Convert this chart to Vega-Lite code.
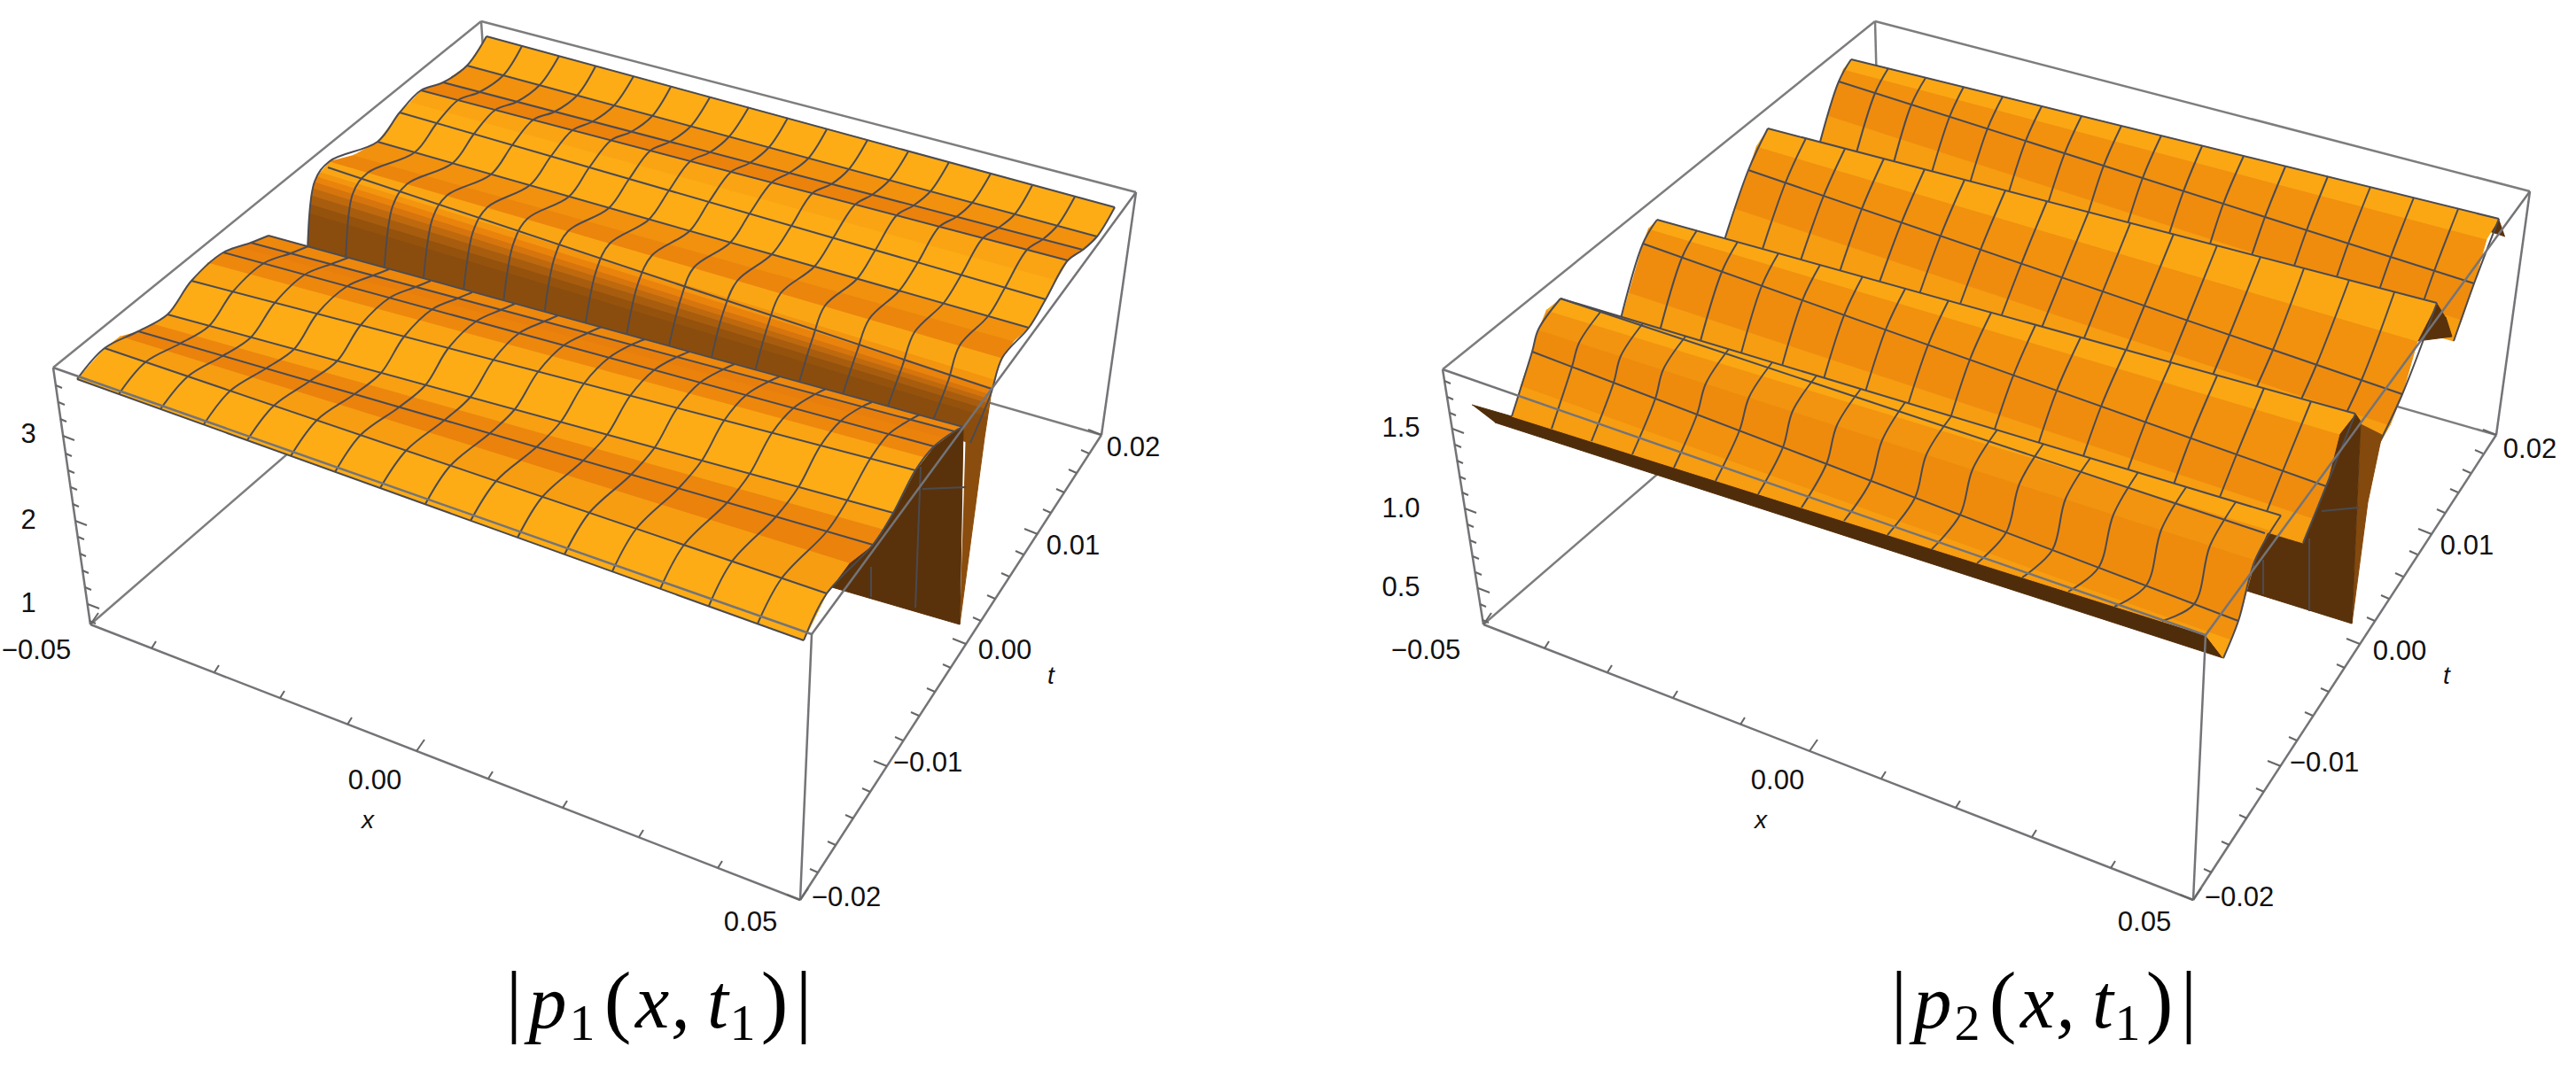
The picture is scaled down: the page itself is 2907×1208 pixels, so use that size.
{
"$schema":"https://vega.github.io/schema/vega-lite/v6.json",
"width":2907,"height":1208,"padding":0,
"autosize":{"type":"fit","contains":"padding"},
"background":"white",
"config":{"view":{"stroke":null}},
"datasets":{
"boxUnder":[
{"x":102,"y":705,"x2":572,"y2":298},{"x":572,"y":298,"x2":1243,"y2":491},{"x":60,"y":415,"x2":543,"y2":24},{"x":543,"y":24,"x2":1282,"y2":217},{"x":543,"y":24,"x2":548,"y2":100},
{"x":1674,"y":705,"x2":2145,"y2":298},{"x":2145,"y":298,"x2":2817,"y2":491},{"x":1628,"y":417,"x2":2116,"y2":24},{"x":2116,"y":24,"x2":2855,"y2":216},{"x":2116,"y":24,"x2":2118,"y2":100}
],
"boxOver":[
{"x":60,"y":415,"x2":916,"y2":716},{"x":916,"y":716,"x2":1282,"y2":217},{"x":916,"y":716,"x2":903,"y2":1016},{"x":60,"y":415,"x2":102,"y2":705},{"x":1282,"y":217,"x2":1243,"y2":491},{"x":102,"y":705,"x2":903,"y2":1016},{"x":903,"y":1016,"x2":1243,"y2":491},
{"x":1628,"y":417,"x2":2489,"y2":717},{"x":2489,"y":717,"x2":2855,"y2":216},{"x":2489,"y":717,"x2":2475,"y2":1016},{"x":1628,"y":417,"x2":1674,"y2":705},{"x":2855,"y":216,"x2":2817,"y2":491},{"x":1674,"y":705,"x2":2475,"y2":1016},{"x":2475,"y":1016,"x2":2817,"y2":491}
],
"ticks":[
{"x":102,"y":705,"x2":111,"y2":692},{"x":171,"y":732,"x2":176,"y2":724},{"x":242,"y":759,"x2":247,"y2":751},{"x":316,"y":788,"x2":321,"y2":780},{"x":392,"y":818,"x2":397,"y2":810},{"x":470,"y":848,"x2":479,"y2":835},{"x":551,"y":879,"x2":556,"y2":871},{"x":635,"y":912,"x2":640,"y2":904},{"x":721,"y":945,"x2":726,"y2":937},{"x":810,"y":980,"x2":815,"y2":972},{"x":903,"y":1016,"x2":912,"y2":1003},
{"x":903,"y":1016,"x2":888,"y2":1010},{"x":923,"y":985,"x2":914,"y2":981},{"x":943,"y":954,"x2":934,"y2":950},{"x":963,"y":924,"x2":954,"y2":920},{"x":982,"y":894,"x2":973,"y2":890},{"x":1001,"y":865,"x2":986,"y2":859},{"x":1019,"y":836,"x2":1010,"y2":832},{"x":1037,"y":808,"x2":1028,"y2":804},{"x":1055,"y":781,"x2":1046,"y2":777},{"x":1073,"y":754,"x2":1064,"y2":750},{"x":1090,"y":727,"x2":1075,"y2":721},{"x":1107,"y":701,"x2":1098,"y2":697},{"x":1123,"y":676,"x2":1114,"y2":672},{"x":1139,"y":651,"x2":1130,"y2":647},{"x":1155,"y":626,"x2":1146,"y2":622},{"x":1171,"y":603,"x2":1156,"y2":597},{"x":1186,"y":579,"x2":1177,"y2":575},{"x":1201,"y":556,"x2":1192,"y2":552},{"x":1215,"y":534,"x2":1206,"y2":530},{"x":1229,"y":512,"x2":1220,"y2":508},{"x":1243,"y":491,"x2":1228,"y2":485},
{"x":101,"y":701,"x2":108,"y2":704},{"x":99,"y":682,"x2":112,"y2":687},{"x":96,"y":663,"x2":103,"y2":666},{"x":93,"y":644,"x2":100,"y2":647},{"x":90,"y":625,"x2":97,"y2":628},{"x":88,"y":606,"x2":95,"y2":609},{"x":85,"y":588,"x2":98,"y2":593},{"x":82,"y":569,"x2":89,"y2":572},{"x":80,"y":550,"x2":87,"y2":553},{"x":77,"y":531,"x2":84,"y2":534},{"x":74,"y":512,"x2":81,"y2":515},{"x":71,"y":492,"x2":84,"y2":497},{"x":68,"y":473,"x2":75,"y2":476},{"x":66,"y":454,"x2":73,"y2":457},{"x":63,"y":435,"x2":70,"y2":438},
{"x":1674,"y":705,"x2":1683,"y2":692},{"x":1743,"y":732,"x2":1748,"y2":724},{"x":1814,"y":759,"x2":1819,"y2":751},{"x":1888,"y":788,"x2":1893,"y2":780},{"x":1964,"y":818,"x2":1969,"y2":810},{"x":2042,"y":848,"x2":2051,"y2":835},{"x":2123,"y":879,"x2":2128,"y2":871},{"x":2207,"y":912,"x2":2212,"y2":904},{"x":2293,"y":945,"x2":2298,"y2":937},{"x":2382,"y":980,"x2":2387,"y2":972},{"x":2475,"y":1016,"x2":2484,"y2":1003},
{"x":2475,"y":1016,"x2":2460,"y2":1010},{"x":2496,"y":985,"x2":2487,"y2":981},{"x":2516,"y":954,"x2":2507,"y2":950},{"x":2536,"y":924,"x2":2527,"y2":920},{"x":2555,"y":894,"x2":2546,"y2":890},{"x":2574,"y":865,"x2":2559,"y2":859},{"x":2592,"y":836,"x2":2583,"y2":832},{"x":2610,"y":808,"x2":2601,"y2":804},{"x":2628,"y":781,"x2":2619,"y2":777},{"x":2646,"y":754,"x2":2637,"y2":750},{"x":2663,"y":727,"x2":2648,"y2":721},{"x":2680,"y":701,"x2":2671,"y2":697},{"x":2696,"y":676,"x2":2687,"y2":672},{"x":2712,"y":651,"x2":2703,"y2":647},{"x":2728,"y":626,"x2":2719,"y2":622},{"x":2744,"y":603,"x2":2729,"y2":597},{"x":2759,"y":579,"x2":2750,"y2":575},{"x":2774,"y":556,"x2":2765,"y2":552},{"x":2788,"y":534,"x2":2779,"y2":530},{"x":2802,"y":512,"x2":2793,"y2":508},{"x":2817,"y":491,"x2":2802,"y2":485},
{"x":1673,"y":700,"x2":1680,"y2":703},{"x":1670,"y":682,"x2":1677,"y2":685},{"x":1668,"y":664,"x2":1681,"y2":669},{"x":1665,"y":646,"x2":1672,"y2":649},{"x":1662,"y":628,"x2":1669,"y2":631},{"x":1659,"y":610,"x2":1666,"y2":613},{"x":1656,"y":592,"x2":1663,"y2":595},{"x":1653,"y":574,"x2":1666,"y2":579},{"x":1650,"y":556,"x2":1657,"y2":559},{"x":1647,"y":538,"x2":1654,"y2":541},{"x":1644,"y":520,"x2":1651,"y2":523},{"x":1642,"y":502,"x2":1649,"y2":505},{"x":1639,"y":484,"x2":1652,"y2":489},{"x":1636,"y":466,"x2":1643,"y2":469},{"x":1633,"y":448,"x2":1640,"y2":451},{"x":1630,"y":430,"x2":1637,"y2":433}
],
"tickLabels":[
{"x":32,"y":491,"label":"3"},{"x":32,"y":588,"label":"2"},{"x":32,"y":682,"label":"1"},{"x":41,"y":735,"label":"−0.05"},{"x":423,"y":882,"label":"0.00"},{"x":847,"y":1042,"label":"0.05"},{"x":955,"y":1014,"label":"−0.02"},{"x":1047,"y":862,"label":"−0.01"},{"x":1134,"y":735,"label":"0.00"},{"x":1211,"y":617,"label":"0.01"},{"x":1279,"y":506,"label":"0.02"},
{"x":1581,"y":484,"label":"1.5"},{"x":1581,"y":575,"label":"1.0"},{"x":1581,"y":664,"label":"0.5"},{"x":1609,"y":735,"label":"−0.05"},{"x":2006,"y":882,"label":"0.00"},{"x":2420,"y":1042,"label":"0.05"},{"x":2527,"y":1014,"label":"−0.02"},{"x":2623,"y":862,"label":"−0.01"},{"x":2708,"y":736,"label":"0.00"},{"x":2784,"y":617,"label":"0.01"},{"x":2855,"y":508,"label":"0.02"}
],
"axisTitles":[{"x":415,"y":927,"label":"x"},{"x":1186,"y":764,"label":"t"},{"x":1987,"y":927,"label":"x"},{"x":2761,"y":764,"label":"t"}],
"titleUpright":[{"x":580,"y":1160,"label":"|"},{"x":697,"y":1160,"label":"("},{"x":874,"y":1160,"label":")"},{"x":907,"y":1160,"label":"|"},{"x":2143,"y":1160,"label":"|"},{"x":2260,"y":1160,"label":"("},{"x":2437,"y":1160,"label":")"},{"x":2470,"y":1160,"label":"|"}],
"titleItalic":[{"x":618,"y":1160,"label":"p"},{"x":736,"y":1160,"label":"x"},{"x":768,"y":1160,"label":","},{"x":810,"y":1160,"label":"t"},{"x":2181,"y":1160,"label":"p"},{"x":2299,"y":1160,"label":"x"},{"x":2331,"y":1160,"label":","},{"x":2373,"y":1160,"label":"t"}],
"titleSub":[{"x":657,"y":1174,"label":"1"},{"x":838,"y":1174,"label":"1"},{"x":2220,"y":1174,"label":"2"},{"x":2401,"y":1174,"label":"1"}],
"lbS":[
{"id":1,"shade":0.33,"x":1090,"y":483},{"id":1,"shade":0.33,"x":1119,"y":441},{"id":1,"shade":0.33,"x":1111,"y":494},{"id":1,"shade":0.33,"x":1083,"y":705},
{"id":2,"shade":0.33,"x":347,"y":290},{"id":2,"shade":0.33,"x":1095,"y":500},{"id":2,"shade":0.33,"x":1114,"y":470},{"id":2,"shade":0.33,"x":349,"y":240},
{"id":3,"shade":0.37,"x":349,"y":240},{"id":3,"shade":0.37,"x":1114,"y":470},{"id":3,"shade":0.37,"x":1115,"y":462},{"id":3,"shade":0.37,"x":350,"y":230},
{"id":31,"shade":0.45,"x":350,"y":230},{"id":31,"shade":0.45,"x":1115,"y":462},{"id":31,"shade":0.45,"x":1116,"y":455},{"id":31,"shade":0.45,"x":351,"y":220},
{"id":4,"shade":0.54,"x":351,"y":220},{"id":4,"shade":0.54,"x":1116,"y":455},{"id":4,"shade":0.54,"x":1117,"y":450},{"id":4,"shade":0.54,"x":353,"y":212},
{"id":41,"shade":0.63,"x":353,"y":212},{"id":41,"shade":0.63,"x":1117,"y":450},{"id":41,"shade":0.63,"x":1118,"y":445},{"id":41,"shade":0.63,"x":355,"y":205},
{"id":5,"shade":0.73,"x":355,"y":205},{"id":5,"shade":0.73,"x":1118,"y":445},{"id":5,"shade":0.73,"x":1120,"y":437},{"id":5,"shade":0.73,"x":358,"y":199},
{"id":51,"shade":0.85,"x":358,"y":199},{"id":51,"shade":0.85,"x":1120,"y":437},{"id":51,"shade":0.85,"x":1122,"y":428},{"id":51,"shade":0.85,"x":362,"y":194},
{"id":6,"shade":0.96,"x":362,"y":194},{"id":6,"shade":0.96,"x":1122,"y":428},{"id":6,"shade":0.96,"x":1131,"y":404},{"id":6,"shade":0.96,"x":372,"y":182},
{"id":7,"shade":0.74,"x":372,"y":182},{"id":7,"shade":0.74,"x":1131,"y":404},{"id":7,"shade":0.74,"x":1144,"y":385},{"id":7,"shade":0.74,"x":399,"y":175},
{"id":8,"shade":0.82,"x":399,"y":175},{"id":8,"shade":0.82,"x":1144,"y":385},{"id":8,"shade":0.82,"x":1161,"y":370},{"id":8,"shade":0.82,"x":426,"y":160},
{"id":9,"shade":1,"x":426,"y":160},{"id":9,"shade":1,"x":1161,"y":370},{"id":9,"shade":1,"x":1180,"y":338},{"id":9,"shade":1,"x":451,"y":127},
{"id":10,"shade":1,"x":451,"y":127},{"id":10,"shade":1,"x":1180,"y":338},{"id":10,"shade":1,"x":1192,"y":316},{"id":10,"shade":1,"x":463,"y":115},
{"id":11,"shade":0.95,"x":463,"y":115},{"id":11,"shade":0.95,"x":1192,"y":316},{"id":11,"shade":0.95,"x":1205,"y":294},{"id":11,"shade":0.95,"x":475,"y":102},
{"id":12,"shade":0.72,"x":475,"y":102},{"id":12,"shade":0.72,"x":1205,"y":294},{"id":12,"shade":0.72,"x":1222,"y":282},{"id":12,"shade":0.72,"x":500,"y":93},
{"id":13,"shade":0.82,"x":500,"y":93},{"id":13,"shade":0.82,"x":1222,"y":282},{"id":13,"shade":0.82,"x":1238,"y":267},{"id":13,"shade":0.82,"x":527,"y":74},
{"id":14,"shade":1,"x":527,"y":74},{"id":14,"shade":1,"x":1238,"y":267},{"id":14,"shade":1,"x":1258,"y":234},{"id":14,"shade":1,"x":549,"y":41}
],
"lbG":[
{"id":0,"x":347,"y":290},{"id":0,"x":355,"y":205},{"id":0,"x":372,"y":182},{"id":0,"x":426,"y":160},{"id":0,"x":451,"y":127},{"id":0,"x":475,"y":102},{"id":0,"x":500,"y":93},{"id":0,"x":527,"y":74},{"id":0,"x":549,"y":41},
{"id":1,"x":390,"y":302},{"id":1,"x":398,"y":219},{"id":1,"x":415,"y":195},{"id":1,"x":468,"y":172},{"id":1,"x":493,"y":139},{"id":1,"x":517,"y":113},{"id":1,"x":541,"y":104},{"id":1,"x":568,"y":85},{"id":1,"x":589,"y":52},
{"id":2,"x":433,"y":314},{"id":2,"x":443,"y":233},{"id":2,"x":459,"y":208},{"id":2,"x":511,"y":184},{"id":2,"x":535,"y":151},{"id":2,"x":559,"y":124},{"id":2,"x":583,"y":115},{"id":2,"x":609,"y":96},{"id":2,"x":631,"y":63},
{"id":3,"x":477,"y":327},{"id":3,"x":488,"y":247},{"id":3,"x":504,"y":221},{"id":3,"x":554,"y":197},{"id":3,"x":578,"y":164},{"id":3,"x":602,"y":135},{"id":3,"x":626,"y":126},{"id":3,"x":651,"y":108},{"id":3,"x":672,"y":75},
{"id":4,"x":522,"y":339},{"id":4,"x":534,"y":261},{"id":4,"x":550,"y":234},{"id":4,"x":598,"y":209},{"id":4,"x":622,"y":176},{"id":4,"x":646,"y":147},{"id":4,"x":669,"y":137},{"id":4,"x":693,"y":119},{"id":4,"x":715,"y":86},
{"id":5,"x":567,"y":352},{"id":5,"x":579,"y":276},{"id":5,"x":595,"y":247},{"id":5,"x":642,"y":222},{"id":5,"x":665,"y":189},{"id":5,"x":690,"y":158},{"id":5,"x":712,"y":149},{"id":5,"x":736,"y":131},{"id":5,"x":757,"y":98},
{"id":6,"x":613,"y":365},{"id":6,"x":626,"y":290},{"id":6,"x":641,"y":261},{"id":6,"x":687,"y":235},{"id":6,"x":710,"y":202},{"id":6,"x":734,"y":170},{"id":6,"x":756,"y":160},{"id":6,"x":779,"y":143},{"id":6,"x":801,"y":110},
{"id":7,"x":659,"y":378},{"id":7,"x":673,"y":305},{"id":7,"x":688,"y":275},{"id":7,"x":732,"y":248},{"id":7,"x":755,"y":215},{"id":7,"x":779,"y":182},{"id":7,"x":801,"y":172},{"id":7,"x":823,"y":154},{"id":7,"x":845,"y":121},
{"id":8,"x":705,"y":391},{"id":8,"x":720,"y":320},{"id":8,"x":736,"y":288},{"id":8,"x":778,"y":261},{"id":8,"x":800,"y":228},{"id":8,"x":825,"y":194},{"id":8,"x":846,"y":184},{"id":8,"x":868,"y":166},{"id":8,"x":889,"y":133},
{"id":9,"x":752,"y":404},{"id":9,"x":769,"y":335},{"id":9,"x":783,"y":302},{"id":9,"x":824,"y":274},{"id":9,"x":846,"y":241},{"id":9,"x":871,"y":206},{"id":9,"x":891,"y":195},{"id":9,"x":912,"y":179},{"id":9,"x":933,"y":146},
{"id":10,"x":800,"y":417},{"id":10,"x":817,"y":350},{"id":10,"x":832,"y":317},{"id":10,"x":871,"y":287},{"id":10,"x":893,"y":255},{"id":10,"x":917,"y":218},{"id":10,"x":938,"y":208},{"id":10,"x":958,"y":191},{"id":10,"x":979,"y":158},
{"id":11,"x":849,"y":431},{"id":11,"x":867,"y":366},{"id":11,"x":881,"y":331},{"id":11,"x":919,"y":301},{"id":11,"x":940,"y":269},{"id":11,"x":965,"y":231},{"id":11,"x":984,"y":220},{"id":11,"x":1004,"y":203},{"id":11,"x":1025,"y":171},
{"id":12,"x":898,"y":445},{"id":12,"x":917,"y":382},{"id":12,"x":931,"y":345},{"id":12,"x":967,"y":315},{"id":12,"x":988,"y":282},{"id":12,"x":1012,"y":243},{"id":12,"x":1031,"y":232},{"id":12,"x":1050,"y":216},{"id":12,"x":1071,"y":183},
{"id":13,"x":947,"y":458},{"id":13,"x":967,"y":397},{"id":13,"x":981,"y":360},{"id":13,"x":1015,"y":328},{"id":13,"x":1036,"y":296},{"id":13,"x":1060,"y":256},{"id":13,"x":1079,"y":245},{"id":13,"x":1097,"y":229},{"id":13,"x":1118,"y":196},
{"id":14,"x":997,"y":472},{"id":14,"x":1018,"y":414},{"id":14,"x":1032,"y":375},{"id":14,"x":1065,"y":342},{"id":14,"x":1085,"y":310},{"id":14,"x":1109,"y":269},{"id":14,"x":1127,"y":257},{"id":14,"x":1145,"y":242},{"id":14,"x":1165,"y":209},
{"id":15,"x":1048,"y":487},{"id":15,"x":1070,"y":430},{"id":15,"x":1083,"y":390},{"id":15,"x":1115,"y":357},{"id":15,"x":1134,"y":325},{"id":15,"x":1159,"y":282},{"id":15,"x":1177,"y":270},{"id":15,"x":1193,"y":255},{"id":15,"x":1213,"y":222},
{"id":16,"x":1095,"y":500},{"id":16,"x":1118,"y":445},{"id":16,"x":1131,"y":404},{"id":16,"x":1161,"y":370},{"id":16,"x":1180,"y":338},{"id":16,"x":1205,"y":294},{"id":16,"x":1222,"y":282},{"id":16,"x":1238,"y":267},{"id":16,"x":1258,"y":234},
{"id":101,"x":370,"y":189},{"id":101,"x":1119,"y":439},{"id":102,"x":426,"y":160},{"id":102,"x":1161,"y":370},{"id":103,"x":451,"y":127},{"id":103,"x":1180,"y":338},{"id":104,"x":475,"y":102},{"id":104,"x":1205,"y":294},{"id":105,"x":500,"y":93},{"id":105,"x":1222,"y":282},{"id":106,"x":527,"y":74},{"id":106,"x":1238,"y":267},{"id":107,"x":549,"y":41},{"id":107,"x":1258,"y":234}
],
"lfS":[
{"id":1,"shade":0.12,"x":1087,"y":482},{"id":1,"shade":0.12,"x":1083,"y":705},{"id":1,"shade":0.12,"x":939,"y":663},{"id":1,"shade":0.12,"x":933,"y":670},{"id":1,"shade":0.12,"x":958,"y":636},{"id":1,"shade":0.12,"x":985,"y":615},{"id":1,"shade":0.12,"x":1008,"y":579},{"id":1,"shade":0.12,"x":1033,"y":531},{"id":1,"shade":0.12,"x":1044,"y":517},{"id":1,"shade":0.12,"x":1054,"y":504},{"id":1,"shade":0.12,"x":1066,"y":495},{"id":1,"shade":0.12,"x":1077,"y":487},
{"id":2,"shade":0.76,"x":283,"y":274},{"id":2,"shade":0.76,"x":1077,"y":487},{"id":2,"shade":0.76,"x":1087,"y":482},{"id":2,"shade":0.76,"x":303,"y":266},
{"id":3,"shade":0.7,"x":268,"y":279},{"id":3,"shade":0.7,"x":1066,"y":495},{"id":3,"shade":0.7,"x":1077,"y":487},{"id":3,"shade":0.7,"x":283,"y":274},
{"id":4,"shade":0.72,"x":252,"y":285},{"id":4,"shade":0.72,"x":1054,"y":504},{"id":4,"shade":0.72,"x":1066,"y":495},{"id":4,"shade":0.72,"x":268,"y":279},
{"id":5,"shade":0.76,"x":234,"y":297},{"id":5,"shade":0.76,"x":1044,"y":517},{"id":5,"shade":0.76,"x":1054,"y":504},{"id":5,"shade":0.76,"x":252,"y":285},
{"id":6,"shade":0.95,"x":216,"y":317},{"id":6,"shade":0.95,"x":1033,"y":531},{"id":6,"shade":0.95,"x":1044,"y":517},{"id":6,"shade":0.95,"x":234,"y":297},
{"id":7,"shade":1,"x":189,"y":355},{"id":7,"shade":1,"x":1008,"y":579},{"id":7,"shade":1,"x":1033,"y":531},{"id":7,"shade":1,"x":216,"y":317},
{"id":8,"shade":0.92,"x":172,"y":366},{"id":8,"shade":0.92,"x":996,"y":598},{"id":8,"shade":0.92,"x":1008,"y":579},{"id":8,"shade":0.92,"x":189,"y":355},
{"id":9,"shade":0.75,"x":156,"y":374},{"id":9,"shade":0.75,"x":985,"y":615},{"id":9,"shade":0.75,"x":996,"y":598},{"id":9,"shade":0.75,"x":172,"y":366},
{"id":10,"shade":0.72,"x":135,"y":380},{"id":10,"shade":0.72,"x":958,"y":636},{"id":10,"shade":0.72,"x":985,"y":615},{"id":10,"shade":0.72,"x":156,"y":374},
{"id":11,"shade":0.9,"x":118,"y":393},{"id":11,"shade":0.9,"x":933,"y":670},{"id":11,"shade":0.9,"x":958,"y":636},{"id":11,"shade":0.9,"x":135,"y":380},
{"id":12,"shade":1,"x":87,"y":428},{"id":12,"shade":1,"x":907,"y":723},{"id":12,"shade":1,"x":933,"y":670},{"id":12,"shade":1,"x":118,"y":393}
],
"lfG":[
{"id":201,"x":1039,"y":527},{"id":201,"x":1033,"y":686},{"id":202,"x":983,"y":640},{"id":202,"x":983,"y":674},{"id":203,"x":1041,"y":552},{"id":203,"x":1090,"y":550},
{"id":0,"x":87,"y":428},{"id":0,"x":118,"y":393},{"id":0,"x":156,"y":374},{"id":0,"x":189,"y":355},{"id":0,"x":216,"y":317},{"id":0,"x":252,"y":285},{"id":0,"x":283,"y":274},{"id":0,"x":303,"y":266},
{"id":1,"x":134,"y":445},{"id":1,"x":164,"y":409},{"id":1,"x":203,"y":388},{"id":1,"x":236,"y":368},{"id":1,"x":263,"y":329},{"id":1,"x":298,"y":297},{"id":1,"x":328,"y":286},{"id":1,"x":348,"y":278},
{"id":2,"x":181,"y":462},{"id":2,"x":212,"y":425},{"id":2,"x":251,"y":402},{"id":2,"x":283,"y":381},{"id":2,"x":310,"y":342},{"id":2,"x":344,"y":310},{"id":2,"x":374,"y":298},{"id":2,"x":393,"y":291},
{"id":3,"x":230,"y":479},{"id":3,"x":260,"y":441},{"id":3,"x":300,"y":416},{"id":3,"x":332,"y":394},{"id":3,"x":358,"y":354},{"id":3,"x":392,"y":323},{"id":3,"x":421,"y":311},{"id":3,"x":439,"y":304},
{"id":4,"x":279,"y":497},{"id":4,"x":309,"y":458},{"id":4,"x":350,"y":430},{"id":4,"x":381,"y":407},{"id":4,"x":407,"y":367},{"id":4,"x":440,"y":336},{"id":4,"x":469,"y":324},{"id":4,"x":486,"y":317},
{"id":5,"x":328,"y":515},{"id":5,"x":358,"y":474},{"id":5,"x":400,"y":445},{"id":5,"x":430,"y":421},{"id":5,"x":456,"y":380},{"id":5,"x":488,"y":349},{"id":5,"x":516,"y":337},{"id":5,"x":533,"y":330},
{"id":6,"x":378,"y":533},{"id":6,"x":407,"y":491},{"id":6,"x":450,"y":460},{"id":6,"x":480,"y":435},{"id":6,"x":506,"y":393},{"id":6,"x":537,"y":363},{"id":6,"x":565,"y":350},{"id":6,"x":581,"y":343},
{"id":7,"x":429,"y":551},{"id":7,"x":458,"y":509},{"id":7,"x":502,"y":474},{"id":7,"x":531,"y":448},{"id":7,"x":557,"y":406},{"id":7,"x":586,"y":376},{"id":7,"x":614,"y":363},{"id":7,"x":630,"y":356},
{"id":8,"x":480,"y":569},{"id":8,"x":508,"y":526},{"id":8,"x":553,"y":489},{"id":8,"x":581,"y":462},{"id":8,"x":607,"y":420},{"id":8,"x":636,"y":390},{"id":8,"x":663,"y":376},{"id":8,"x":679,"y":369},
{"id":9,"x":531,"y":588},{"id":9,"x":560,"y":543},{"id":9,"x":605,"y":505},{"id":9,"x":633,"y":476},{"id":9,"x":659,"y":433},{"id":9,"x":687,"y":404},{"id":9,"x":713,"y":389},{"id":9,"x":728,"y":383},
{"id":10,"x":584,"y":607},{"id":10,"x":612,"y":561},{"id":10,"x":658,"y":520},{"id":10,"x":685,"y":491},{"id":10,"x":711,"y":447},{"id":10,"x":738,"y":418},{"id":10,"x":764,"y":403},{"id":10,"x":778,"y":397},
{"id":11,"x":637,"y":626},{"id":11,"x":665,"y":579},{"id":11,"x":712,"y":536},{"id":11,"x":739,"y":505},{"id":11,"x":764,"y":461},{"id":11,"x":790,"y":432},{"id":11,"x":816,"y":417},{"id":11,"x":829,"y":411},
{"id":12,"x":691,"y":645},{"id":12,"x":718,"y":597},{"id":12,"x":766,"y":551},{"id":12,"x":792,"y":520},{"id":12,"x":817,"y":475},{"id":12,"x":842,"y":446},{"id":12,"x":867,"y":431},{"id":12,"x":880,"y":425},
{"id":13,"x":745,"y":665},{"id":13,"x":772,"y":615},{"id":13,"x":821,"y":567},{"id":13,"x":846,"y":535},{"id":13,"x":871,"y":489},{"id":13,"x":895,"y":461},{"id":13,"x":920,"y":445},{"id":13,"x":932,"y":439},
{"id":14,"x":800,"y":684},{"id":14,"x":826,"y":634},{"id":14,"x":876,"y":583},{"id":14,"x":901,"y":550},{"id":14,"x":926,"y":503},{"id":14,"x":949,"y":475},{"id":14,"x":973,"y":459},{"id":14,"x":984,"y":454},
{"id":15,"x":855,"y":704},{"id":15,"x":882,"y":653},{"id":15,"x":933,"y":600},{"id":15,"x":956,"y":565},{"id":15,"x":982,"y":518},{"id":15,"x":1003,"y":490},{"id":15,"x":1027,"y":474},{"id":15,"x":1038,"y":468},
{"id":16,"x":907,"y":723},{"id":16,"x":933,"y":670},{"id":16,"x":985,"y":615},{"id":16,"x":1008,"y":579},{"id":16,"x":1033,"y":531},{"id":16,"x":1054,"y":504},{"id":16,"x":1077,"y":487},{"id":16,"x":1087,"y":482},
{"id":100,"x":87,"y":428},{"id":100,"x":907,"y":723},{"id":101,"x":118,"y":393},{"id":101,"x":933,"y":670},{"id":102,"x":156,"y":374},{"id":102,"x":985,"y":615},{"id":103,"x":189,"y":355},{"id":103,"x":1008,"y":579},{"id":104,"x":216,"y":317},{"id":104,"x":1033,"y":531},{"id":105,"x":252,"y":285},{"id":105,"x":1054,"y":504},{"id":106,"x":283,"y":274},{"id":106,"x":1077,"y":487},{"id":107,"x":303,"y":266},{"id":107,"x":1087,"y":482}
],
"r4S":[
{"id":1,"shade":0.12,"x":2820,"y":247},{"id":1,"shade":0.12,"x":2809,"y":261},{"id":1,"shade":0.12,"x":2827,"y":267},
{"id":2,"shade":0.9,"x":2050,"y":175},{"id":2,"shade":0.9,"x":2769,"y":385},{"id":2,"shade":0.9,"x":2778,"y":361},{"id":2,"shade":0.9,"x":2062,"y":130},
{"id":3,"shade":0.79,"x":2062,"y":130},{"id":3,"shade":0.79,"x":2778,"y":361},{"id":3,"shade":0.79,"x":2792,"y":320},{"id":3,"shade":0.79,"x":2075,"y":92},
{"id":4,"shade":0.82,"x":2075,"y":92},{"id":4,"shade":0.82,"x":2792,"y":320},{"id":4,"shade":0.82,"x":2806,"y":270},{"id":4,"shade":0.82,"x":2080,"y":78},
{"id":5,"shade":0.97,"x":2080,"y":78},{"id":5,"shade":0.97,"x":2806,"y":270},{"id":5,"shade":0.97,"x":2820,"y":247},{"id":5,"shade":0.97,"x":2089,"y":67}
],
"r4G":[
{"id":0,"x":2050,"y":175},{"id":0,"x":2075,"y":92},{"id":0,"x":2089,"y":67},
{"id":1,"x":2091,"y":187},{"id":1,"x":2116,"y":105},{"id":1,"x":2131,"y":77},
{"id":2,"x":2133,"y":199},{"id":2,"x":2157,"y":118},{"id":2,"x":2173,"y":88},
{"id":3,"x":2175,"y":212},{"id":3,"x":2200,"y":132},{"id":3,"x":2216,"y":98},
{"id":4,"x":2218,"y":224},{"id":4,"x":2243,"y":145},{"id":4,"x":2260,"y":109},
{"id":5,"x":2261,"y":237},{"id":5,"x":2286,"y":159},{"id":5,"x":2304,"y":120},
{"id":6,"x":2305,"y":250},{"id":6,"x":2330,"y":173},{"id":6,"x":2349,"y":131},
{"id":7,"x":2350,"y":263},{"id":7,"x":2374,"y":187},{"id":7,"x":2394,"y":142},
{"id":8,"x":2394,"y":276},{"id":8,"x":2418,"y":201},{"id":8,"x":2439,"y":153},
{"id":9,"x":2440,"y":289},{"id":9,"x":2464,"y":216},{"id":9,"x":2485,"y":165},
{"id":10,"x":2486,"y":302},{"id":10,"x":2509,"y":230},{"id":10,"x":2532,"y":176},
{"id":11,"x":2532,"y":316},{"id":11,"x":2556,"y":245},{"id":11,"x":2579,"y":188},
{"id":12,"x":2579,"y":330},{"id":12,"x":2603,"y":260},{"id":12,"x":2627,"y":199},
{"id":13,"x":2627,"y":343},{"id":13,"x":2650,"y":275},{"id":13,"x":2675,"y":211},
{"id":14,"x":2675,"y":357},{"id":14,"x":2698,"y":290},{"id":14,"x":2724,"y":223},
{"id":15,"x":2724,"y":372},{"id":15,"x":2747,"y":306},{"id":15,"x":2774,"y":236},
{"id":16,"x":2769,"y":385},{"id":16,"x":2792,"y":320},{"id":16,"x":2820,"y":247},
{"id":100,"x":2075,"y":92},{"id":100,"x":2792,"y":320},{"id":101,"x":2089,"y":67},{"id":101,"x":2820,"y":247}
],
"r3S":[
{"id":1,"shade":0.12,"x":2750,"y":342},{"id":1,"shade":0.12,"x":2728,"y":385},{"id":1,"shade":0.12,"x":2767,"y":380},{"id":1,"shade":0.12,"x":2760,"y":358},
{"id":2,"shade":0.9,"x":1940,"y":290},{"id":2,"shade":0.9,"x":2680,"y":510},{"id":2,"shade":0.9,"x":2697,"y":480},{"id":2,"shade":0.9,"x":1957,"y":235},
{"id":3,"shade":0.79,"x":1957,"y":235},{"id":3,"shade":0.79,"x":2697,"y":480},{"id":3,"shade":0.79,"x":2711,"y":445},{"id":3,"shade":0.79,"x":1973,"y":192},
{"id":4,"shade":0.82,"x":1973,"y":192},{"id":4,"shade":0.82,"x":2711,"y":445},{"id":4,"shade":0.82,"x":2728,"y":385},{"id":4,"shade":0.82,"x":1982,"y":165},
{"id":5,"shade":0.97,"x":1982,"y":165},{"id":5,"shade":0.97,"x":2728,"y":385},{"id":5,"shade":0.97,"x":2750,"y":342},{"id":5,"shade":0.97,"x":1995,"y":145}
],
"r3G":[
{"id":0,"x":1940,"y":290},{"id":0,"x":1973,"y":192},{"id":0,"x":1995,"y":145},
{"id":1,"x":1982,"y":303},{"id":1,"x":2015,"y":206},{"id":1,"x":2038,"y":156},
{"id":2,"x":2025,"y":315},{"id":2,"x":2058,"y":221},{"id":2,"x":2082,"y":168},
{"id":3,"x":2069,"y":328},{"id":3,"x":2101,"y":236},{"id":3,"x":2126,"y":179},
{"id":4,"x":2113,"y":341},{"id":4,"x":2146,"y":251},{"id":4,"x":2172,"y":191},
{"id":5,"x":2158,"y":355},{"id":5,"x":2190,"y":266},{"id":5,"x":2217,"y":203},
{"id":6,"x":2203,"y":368},{"id":6,"x":2235,"y":282},{"id":6,"x":2263,"y":215},
{"id":7,"x":2249,"y":382},{"id":7,"x":2281,"y":298},{"id":7,"x":2310,"y":227},
{"id":8,"x":2294,"y":395},{"id":8,"x":2327,"y":313},{"id":8,"x":2357,"y":239},
{"id":9,"x":2341,"y":409},{"id":9,"x":2373,"y":329},{"id":9,"x":2404,"y":252},
{"id":10,"x":2388,"y":423},{"id":10,"x":2420,"y":345},{"id":10,"x":2453,"y":264},
{"id":11,"x":2437,"y":438},{"id":11,"x":2468,"y":362},{"id":11,"x":2502,"y":277},
{"id":12,"x":2485,"y":452},{"id":12,"x":2516,"y":378},{"id":12,"x":2551,"y":290},
{"id":13,"x":2533,"y":466},{"id":13,"x":2565,"y":395},{"id":13,"x":2600,"y":303},
{"id":14,"x":2583,"y":481},{"id":14,"x":2614,"y":412},{"id":14,"x":2651,"y":316},
{"id":15,"x":2633,"y":496},{"id":15,"x":2665,"y":429},{"id":15,"x":2702,"y":330},
{"id":16,"x":2680,"y":510},{"id":16,"x":2711,"y":445},{"id":16,"x":2750,"y":342},
{"id":100,"x":1973,"y":192},{"id":100,"x":2711,"y":445},{"id":101,"x":1995,"y":145},{"id":101,"x":2750,"y":342}
],
"r2S":[
{"id":1,"shade":0.3,"x":2664,"y":479},{"id":1,"shade":0.3,"x":2688,"y":491},{"id":1,"shade":0.3,"x":2672,"y":567},{"id":1,"shade":0.3,"x":2654,"y":704},
{"id":2,"shade":0.12,"x":2574,"y":582},{"id":2,"shade":0.12,"x":2560,"y":598},{"id":2,"shade":0.12,"x":2545,"y":632},{"id":2,"shade":0.12,"x":2526,"y":664},{"id":2,"shade":0.12,"x":2654,"y":704},{"id":2,"shade":0.12,"x":2664,"y":476},{"id":2,"shade":0.12,"x":2658,"y":467},{"id":2,"shade":0.12,"x":2640,"y":490},{"id":2,"shade":0.12,"x":2625,"y":549},{"id":2,"shade":0.12,"x":2610,"y":585},{"id":2,"shade":0.12,"x":2599,"y":613},{"id":2,"shade":0.12,"x":2585,"y":590},
{"id":3,"shade":0.9,"x":1824,"y":380},{"id":3,"shade":0.9,"x":2599,"y":613},{"id":3,"shade":0.9,"x":2610,"y":585},{"id":3,"shade":0.9,"x":1838,"y":330},
{"id":4,"shade":0.79,"x":1838,"y":330},{"id":4,"shade":0.79,"x":2610,"y":585},{"id":4,"shade":0.79,"x":2625,"y":549},{"id":4,"shade":0.79,"x":1854,"y":275},
{"id":5,"shade":0.82,"x":1854,"y":275},{"id":5,"shade":0.82,"x":2625,"y":549},{"id":5,"shade":0.82,"x":2640,"y":490},{"id":5,"shade":0.82,"x":1860,"y":258},
{"id":6,"shade":0.97,"x":1860,"y":258},{"id":6,"shade":0.97,"x":2640,"y":490},{"id":6,"shade":0.97,"x":2658,"y":467},{"id":6,"shade":0.97,"x":1870,"y":248}
],
"r2G":[
{"id":201,"x":2620,"y":577},{"id":201,"x":2662,"y":573},{"id":202,"x":2606,"y":608},{"id":202,"x":2606,"y":690},{"id":203,"x":2554,"y":632},{"id":203,"x":2554,"y":671},
{"id":0,"x":1824,"y":380},{"id":0,"x":1854,"y":275},{"id":0,"x":1870,"y":248},
{"id":1,"x":1868,"y":393},{"id":1,"x":1898,"y":291},{"id":1,"x":1915,"y":260},
{"id":2,"x":1913,"y":407},{"id":2,"x":1943,"y":307},{"id":2,"x":1961,"y":273},
{"id":3,"x":1959,"y":421},{"id":3,"x":1988,"y":323},{"id":3,"x":2007,"y":286},
{"id":4,"x":2005,"y":435},{"id":4,"x":2034,"y":339},{"id":4,"x":2054,"y":299},
{"id":5,"x":2052,"y":449},{"id":5,"x":2081,"y":356},{"id":5,"x":2102,"y":312},
{"id":6,"x":2099,"y":463},{"id":6,"x":2128,"y":372},{"id":6,"x":2150,"y":326},
{"id":7,"x":2147,"y":477},{"id":7,"x":2176,"y":389},{"id":7,"x":2199,"y":339},
{"id":8,"x":2195,"y":492},{"id":8,"x":2223,"y":406},{"id":8,"x":2247,"y":353},
{"id":9,"x":2244,"y":506},{"id":9,"x":2272,"y":424},{"id":9,"x":2297,"y":367},
{"id":10,"x":2294,"y":521},{"id":10,"x":2321,"y":441},{"id":10,"x":2348,"y":381},
{"id":11,"x":2344,"y":536},{"id":11,"x":2371,"y":459},{"id":11,"x":2399,"y":395},
{"id":12,"x":2394,"y":551},{"id":12,"x":2421,"y":477},{"id":12,"x":2450,"y":409},
{"id":13,"x":2446,"y":567},{"id":13,"x":2472,"y":495},{"id":13,"x":2502,"y":424},
{"id":14,"x":2497,"y":582},{"id":14,"x":2524,"y":513},{"id":14,"x":2555,"y":438},
{"id":15,"x":2550,"y":598},{"id":15,"x":2576,"y":532},{"id":15,"x":2608,"y":453},
{"id":16,"x":2599,"y":613},{"id":16,"x":2625,"y":549},{"id":16,"x":2658,"y":467},
{"id":100,"x":1854,"y":275},{"id":100,"x":2625,"y":549},{"id":101,"x":1870,"y":248},{"id":101,"x":2658,"y":467}
],
"r1S":[
{"id":1,"shade":0.08,"x":1661,"y":457},{"id":1,"shade":0.08,"x":1706,"y":470},{"id":1,"shade":0.08,"x":2489,"y":717},{"id":1,"shade":0.08,"x":2509,"y":743},{"id":1,"shade":0.08,"x":1687,"y":477},
{"id":2,"shade":0.95,"x":2489,"y":717},{"id":2,"shade":0.95,"x":2509,"y":743},{"id":2,"shade":0.95,"x":2526,"y":701},
{"id":3,"shade":0.9,"x":1706,"y":470},{"id":3,"shade":0.9,"x":2489,"y":717},{"id":3,"shade":0.9,"x":2526,"y":701},{"id":3,"shade":0.9,"x":1716,"y":435},
{"id":4,"shade":0.82,"x":1716,"y":435},{"id":4,"shade":0.82,"x":2518,"y":722},{"id":4,"shade":0.82,"x":2526,"y":701},{"id":4,"shade":0.82,"x":1729,"y":397},
{"id":5,"shade":0.78,"x":1729,"y":397},{"id":5,"shade":0.78,"x":2526,"y":701},{"id":5,"shade":0.78,"x":2545,"y":632},{"id":5,"shade":0.78,"x":1736,"y":372},
{"id":6,"shade":0.84,"x":1736,"y":372},{"id":6,"shade":0.84,"x":2545,"y":632},{"id":6,"shade":0.84,"x":2560,"y":598},{"id":6,"shade":0.84,"x":1745,"y":350},
{"id":7,"shade":0.97,"x":1745,"y":350},{"id":7,"shade":0.97,"x":2560,"y":598},{"id":7,"shade":0.97,"x":2574,"y":582},{"id":7,"shade":0.97,"x":1761,"y":337}
],
"r1G":[
{"id":0,"x":1706,"y":470},{"id":0,"x":1729,"y":397},{"id":0,"x":1736,"y":372},{"id":0,"x":1761,"y":337},
{"id":1,"x":1751,"y":484},{"id":1,"x":1774,"y":414},{"id":1,"x":1782,"y":387},{"id":1,"x":1807,"y":351},
{"id":2,"x":1796,"y":498},{"id":2,"x":1821,"y":432},{"id":2,"x":1829,"y":402},{"id":2,"x":1854,"y":365},
{"id":3,"x":1842,"y":513},{"id":3,"x":1868,"y":450},{"id":3,"x":1877,"y":417},{"id":3,"x":1902,"y":380},
{"id":4,"x":1889,"y":528},{"id":4,"x":1915,"y":468},{"id":4,"x":1925,"y":433},{"id":4,"x":1951,"y":394},
{"id":5,"x":1936,"y":543},{"id":5,"x":1963,"y":486},{"id":5,"x":1974,"y":448},{"id":5,"x":2000,"y":409},
{"id":6,"x":1984,"y":558},{"id":6,"x":2012,"y":505},{"id":6,"x":2023,"y":464},{"id":6,"x":2050,"y":424},
{"id":7,"x":2033,"y":573},{"id":7,"x":2061,"y":524},{"id":7,"x":2073,"y":480},{"id":7,"x":2100,"y":439},
{"id":8,"x":2081,"y":588},{"id":8,"x":2111,"y":543},{"id":8,"x":2124,"y":497},{"id":8,"x":2150,"y":454},
{"id":9,"x":2130,"y":604},{"id":9,"x":2161,"y":562},{"id":9,"x":2174,"y":513},{"id":9,"x":2202,"y":470},
{"id":10,"x":2180,"y":620},{"id":10,"x":2212,"y":581},{"id":10,"x":2226,"y":530},{"id":10,"x":2254,"y":485},
{"id":11,"x":2231,"y":636},{"id":11,"x":2264,"y":601},{"id":11,"x":2279,"y":546},{"id":11,"x":2306,"y":501},
{"id":12,"x":2282,"y":652},{"id":12,"x":2316,"y":621},{"id":12,"x":2331,"y":563},{"id":12,"x":2359,"y":517},
{"id":13,"x":2334,"y":668},{"id":13,"x":2368,"y":641},{"id":13,"x":2385,"y":581},{"id":13,"x":2413,"y":533},
{"id":14,"x":2386,"y":685},{"id":14,"x":2422,"y":661},{"id":14,"x":2439,"y":598},{"id":14,"x":2467,"y":550},
{"id":15,"x":2440,"y":701},{"id":15,"x":2476,"y":682},{"id":15,"x":2494,"y":616},{"id":15,"x":2523,"y":567},
{"id":16,"x":2509,"y":743},{"id":16,"x":2526,"y":701},{"id":16,"x":2545,"y":632},{"id":16,"x":2574,"y":582},
{"id":100,"x":1729,"y":397},{"id":100,"x":2526,"y":701},{"id":101,"x":1761,"y":337},{"id":101,"x":2574,"y":582},{"id":102,"x":1761,"y":337},{"id":102,"x":2556,"y":602}
]
},
"encoding":{
"x":{"field":"x","type":"quantitative","scale":{"domain":[0,2907],"nice":false,"zero":false},"axis":null},
"y":{"field":"y","type":"quantitative","scale":{"domain":[1208,0],"nice":false,"zero":false},"axis":null}
},
"layer":[
{"data":{"name":"boxUnder"},"mark":{"type":"rule","color":"#7d7d7d","strokeWidth":2.5},"encoding":{"x2":{"field":"x2"},"y2":{"field":"y2"}}},
{"data":{"name":"lbS"},"mark":{"type":"line","strokeWidth":1,"order":false},"encoding":{"detail":{"field":"id","type":"nominal"},"fill":{"field":"shade","type":"quantitative","legend":null,"scale":{"domain":[0,0.3,0.7,1],"range":["#3f2306","#84490d","#e87f0c","#fdac16"]}},"stroke":{"field":"shade","type":"quantitative","legend":null,"scale":{"domain":[0,0.3,0.7,1],"range":["#3f2306","#84490d","#e87f0c","#fdac16"]}}}},
{"data":{"name":"lbG"},"mark":{"type":"line","order":false,"interpolate":"catmull-rom","color":"#4b4b52","strokeWidth":2},"encoding":{"detail":{"field":"id","type":"nominal"}}},
{"data":{"name":"lfS"},"mark":{"type":"line","strokeWidth":1,"order":false},"encoding":{"detail":{"field":"id","type":"nominal"},"fill":{"field":"shade","type":"quantitative","legend":null,"scale":{"domain":[0,0.3,0.7,1],"range":["#3f2306","#84490d","#e87f0c","#fdac16"]}},"stroke":{"field":"shade","type":"quantitative","legend":null,"scale":{"domain":[0,0.3,0.7,1],"range":["#3f2306","#84490d","#e87f0c","#fdac16"]}}}},
{"data":{"name":"lfG"},"mark":{"type":"line","order":false,"interpolate":"catmull-rom","color":"#4b4b52","strokeWidth":2},"encoding":{"detail":{"field":"id","type":"nominal"}}},
{"data":{"name":"r4S"},"mark":{"type":"line","strokeWidth":1,"order":false},"encoding":{"detail":{"field":"id","type":"nominal"},"fill":{"field":"shade","type":"quantitative","legend":null,"scale":{"domain":[0,0.3,0.7,1],"range":["#3f2306","#84490d","#e87f0c","#fdac16"]}},"stroke":{"field":"shade","type":"quantitative","legend":null,"scale":{"domain":[0,0.3,0.7,1],"range":["#3f2306","#84490d","#e87f0c","#fdac16"]}}}},
{"data":{"name":"r4G"},"mark":{"type":"line","order":false,"interpolate":"catmull-rom","color":"#4b4b52","strokeWidth":2},"encoding":{"detail":{"field":"id","type":"nominal"}}},
{"data":{"name":"r3S"},"mark":{"type":"line","strokeWidth":1,"order":false},"encoding":{"detail":{"field":"id","type":"nominal"},"fill":{"field":"shade","type":"quantitative","legend":null,"scale":{"domain":[0,0.3,0.7,1],"range":["#3f2306","#84490d","#e87f0c","#fdac16"]}},"stroke":{"field":"shade","type":"quantitative","legend":null,"scale":{"domain":[0,0.3,0.7,1],"range":["#3f2306","#84490d","#e87f0c","#fdac16"]}}}},
{"data":{"name":"r3G"},"mark":{"type":"line","order":false,"interpolate":"catmull-rom","color":"#4b4b52","strokeWidth":2},"encoding":{"detail":{"field":"id","type":"nominal"}}},
{"data":{"name":"r2S"},"mark":{"type":"line","strokeWidth":1,"order":false},"encoding":{"detail":{"field":"id","type":"nominal"},"fill":{"field":"shade","type":"quantitative","legend":null,"scale":{"domain":[0,0.3,0.7,1],"range":["#3f2306","#84490d","#e87f0c","#fdac16"]}},"stroke":{"field":"shade","type":"quantitative","legend":null,"scale":{"domain":[0,0.3,0.7,1],"range":["#3f2306","#84490d","#e87f0c","#fdac16"]}}}},
{"data":{"name":"r2G"},"mark":{"type":"line","order":false,"interpolate":"catmull-rom","color":"#4b4b52","strokeWidth":2},"encoding":{"detail":{"field":"id","type":"nominal"}}},
{"data":{"name":"r1S"},"mark":{"type":"line","strokeWidth":1,"order":false},"encoding":{"detail":{"field":"id","type":"nominal"},"fill":{"field":"shade","type":"quantitative","legend":null,"scale":{"domain":[0,0.3,0.7,1],"range":["#3f2306","#84490d","#e87f0c","#fdac16"]}},"stroke":{"field":"shade","type":"quantitative","legend":null,"scale":{"domain":[0,0.3,0.7,1],"range":["#3f2306","#84490d","#e87f0c","#fdac16"]}}}},
{"data":{"name":"r1G"},"mark":{"type":"line","order":false,"interpolate":"catmull-rom","color":"#4b4b52","strokeWidth":2},"encoding":{"detail":{"field":"id","type":"nominal"}}},
{"data":{"name":"boxOver"},"mark":{"type":"rule","color":"#747478","strokeWidth":2.5},"encoding":{"x2":{"field":"x2"},"y2":{"field":"y2"}}},
{"data":{"name":"ticks"},"mark":{"type":"rule","color":"#666666","strokeWidth":2},"encoding":{"x2":{"field":"x2"},"y2":{"field":"y2"}}},
{"data":{"name":"tickLabels"},"mark":{"type":"text","font":"Liberation Sans","fontSize":31,"align":"center","baseline":"middle","color":"#111111"},"encoding":{"text":{"field":"label","type":"nominal"}}},
{"data":{"name":"axisTitles"},"mark":{"type":"text","font":"Liberation Sans","fontStyle":"italic","fontSize":28,"align":"center","baseline":"middle","color":"#111111"},"encoding":{"text":{"field":"label","type":"nominal"}}},
{"data":{"name":"titleUpright"},"mark":{"type":"text","font":"Liberation Serif","fontSize":92,"align":"center","baseline":"alphabetic","color":"#000000"},"encoding":{"text":{"field":"label","type":"nominal"}}},
{"data":{"name":"titleItalic"},"mark":{"type":"text","font":"Liberation Serif","fontStyle":"italic","fontSize":86,"align":"center","baseline":"alphabetic","color":"#000000"},"encoding":{"text":{"field":"label","type":"nominal"}}},
{"data":{"name":"titleSub"},"mark":{"type":"text","font":"Liberation Serif","fontSize":58,"align":"center","baseline":"alphabetic","color":"#000000"},"encoding":{"text":{"field":"label","type":"nominal"}}}
]
}
